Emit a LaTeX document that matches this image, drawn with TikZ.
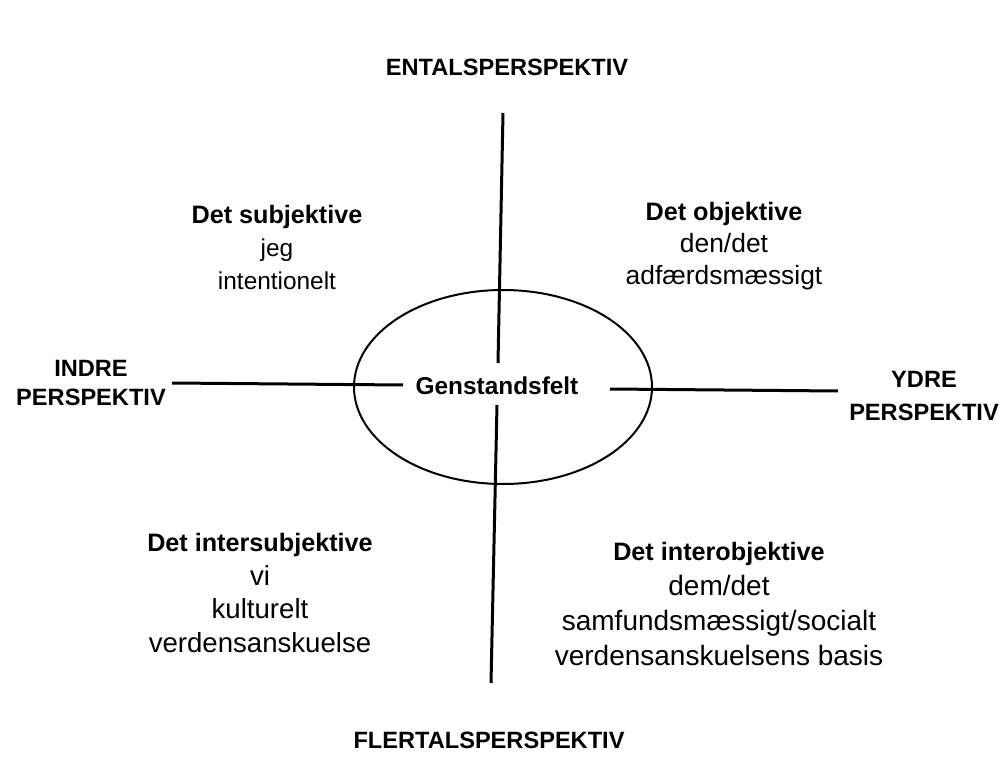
\documentclass[tikz,border=0pt]{standalone}
\usepackage{fontspec}
\setmainfont{Liberation Sans}
\usetikzlibrary{shapes.geometric}
\newcommand{\hd}[1]{{\bfseries\fontsize{12.6}{16}\selectfont #1}}

\begin{document}
\begin{tikzpicture} [
    x=0.5pt, y=-0.5pt,
    axis/.style={line width=1.5pt},
    pole/.style={
        font=\bfseries\fontsize{11.8}{14.5}\selectfont,
        align=center, inner sep=0pt
    },
    quad/.style={
        font=\fontsize{13.8}{16}\selectfont,
        align=center, inner sep=0pt, anchor=north
    }
]

\useasboundingbox (0,0) rectangle (1003,765);

\node [draw, ellipse, line width=1pt, inner sep=0pt,
    minimum width=149pt, minimum height=97pt] (field) at (503,387) {};
\node [pole, font=\bfseries\fontsize{12.2}{14}\selectfont] (gen) at (497,386) {Genstandsfelt};

\node [pole] (ental)   at (507,67)  {ENTALSPERSPEKTIV};
\node [pole] (flertal) at (489,740) {FLERTALSPERSPEKTIV};
\node [pole] (indre)   at (91,383)  {INDRE\\PERSPEKTIV};
\node [pole, font=\bfseries\fontsize{11.8}{16.5}\selectfont] (ydre) at (924,396) {YDRE\\PERSPEKTIV};

\coordinate (vtop) at (503,113);
\coordinate (vtopin) at (498,363);
\coordinate (vbotin) at (497,405);
\coordinate (vbot) at (491,683);
\coordinate (hleft) at (172,383);
\coordinate (hleftin) at (403,385);
\coordinate (hrightin) at (610,389);
\coordinate (hright) at (838,391);

\draw [axis] (vtop) -- (vtopin);
\draw [axis] (vbotin) -- (vbot);
\draw [axis] (hleft) -- (hleftin);
\draw [axis] (hrightin) -- (hright);

\node [quad, font=\fontsize{12.2}{16.5}\selectfont] (subj) at (277,205)
    {\hd{Det subjektive}\\jeg\\intentionelt};
\node [quad, font=\fontsize{13.2}{16}\selectfont] (obj) at (724,202)
    {\hd{Det objektive}\\den/det\\adfærdsmæssigt};
\node [quad, font=\fontsize{13.8}{16.8}\selectfont] (intersubj) at (260,533)
    {\hd{Det intersubjektive}\\vi\\kulturelt\\verdensanskuelse};
\node [quad, font=\fontsize{14}{17.5}\selectfont] (interobj) at (719,542)
    {\hd{Det interobjektive}\\dem/det\\samfundsmæssigt/socialt\\verdensanskuelsens basis};

\end{tikzpicture}
\end{document}
